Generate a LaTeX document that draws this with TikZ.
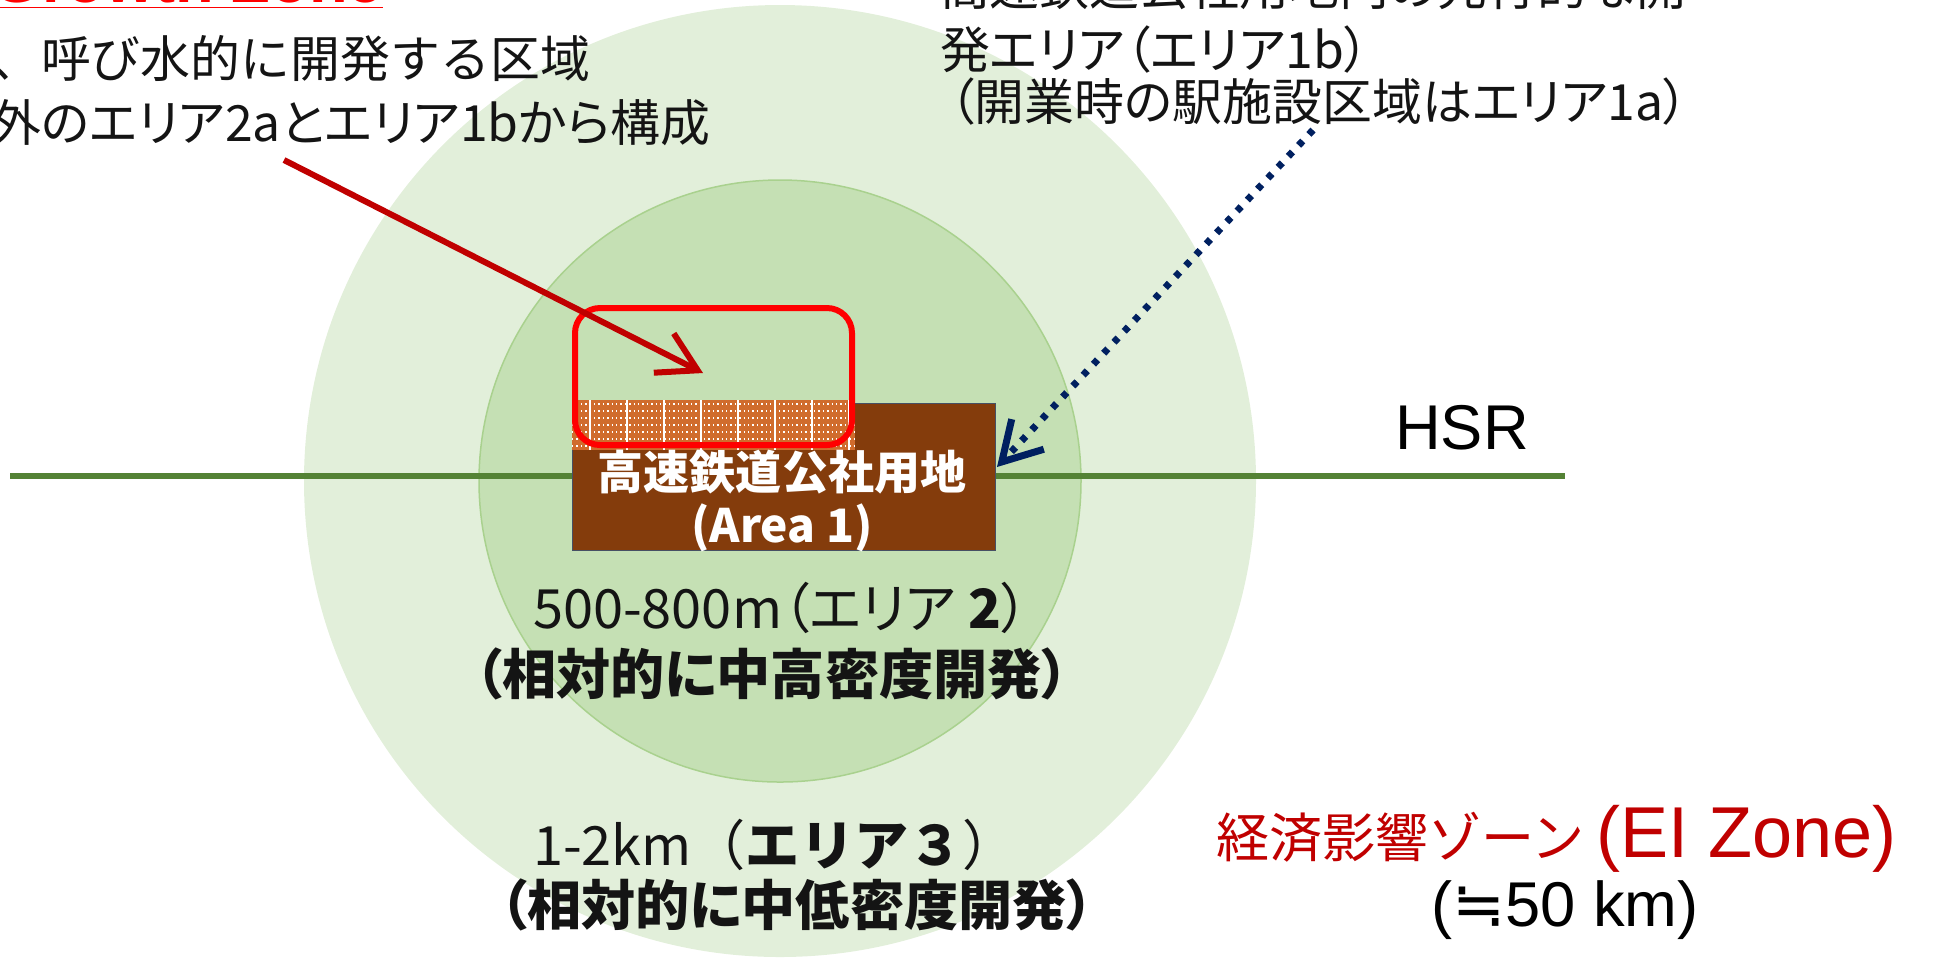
\documentclass[tikz,border=0pt]{standalone}
\usepackage{fontspec}
\newfontfamily\jpfont[RawFeature=+palt]{Noto Sans CJK JP}
\newfontfamily\jpfull{Noto Sans CJK JP}
\newfontfamily\arialfont{Liberation Sans}
\newfontfamily\symfont{DejaVu Sans}
\usetikzlibrary{arrows.meta,positioning}
\definecolor{zoneout}{RGB}{226,239,218}
\definecolor{zonein}{RGB}{197,224,180}
\definecolor{zoneedge}{RGB}{169,209,142}
\definecolor{hsrgreen}{RGB}{84,130,53}
\definecolor{landbrown}{RGB}{132,60,12}
\definecolor{landedge}{RGB}{70,80,100}
\definecolor{padorange}{RGB}{208,108,45}
\definecolor{eired}{RGB}{192,0,0}
\definecolor{navyline}{RGB}{0,32,96}
\definecolor{inktext}{RGB}{20,20,20}

\begin{document}
\begin{tikzpicture}[x=0.1mm, y=-0.1mm, inner sep=0pt, outer sep=0pt,
    note/.style={font=\jpfont\fontsize{14.2}{17}\selectfont, text=inktext},
    zonelbl/.style={font=\jpfont\fontsize{15.4}{18}\selectfont, text=inktext, anchor=west},
    barb/.style={-{Straight Barb[length=3.8mm,width=4.4mm]}}]
   \useasboundingbox (0,0) rectangle (1935,962);
   \clip (0,0) rectangle (1935,962);
   % zones
   \node (zone3) [circle, fill=zoneout, minimum size=95.2mm] at (780,481) {};
   \node (zone2) [circle, fill=zonein, draw=zoneedge, line width=0.15mm, minimum size=60.2mm] at (780,481) {};
   % HSR line
   \coordinate (hsrW) at (10,476);
   \coordinate (hsrE) at (1565,476);
   \draw [hsrgreen, line width=0.65mm] (hsrW) -- (hsrE);
   \node (hsr) [font=\arialfont\fontsize{18}{20}\selectfont] at (1462,428) {HSR};
   % area 1 and growth zone box
   \node (area1) [fill=landbrown, draw=landedge, line width=0.1mm, minimum width=42.3mm, minimum height=14.7mm] at (783.5,476.5) {};
   \fill [padorange] (572,400) rectangle (855,450);
   \foreach \yy in {404,411,...,446}
     \draw [white, line width=0.14mm, dash pattern=on 0.14mm off 0.3mm] (572,\yy) -- (855,\yy);
   \foreach \xx in {590,627,...,850}
     \draw [white, line width=0.12mm] (\xx,400) -- (\xx,450);
   \node (gzbox) [draw=red, line width=0.6mm, rounded corners=2.5mm, minimum width=27.7mm, minimum height=13.7mm] at (713.5,376.5) {};
   \node (area1txt) [align=center, text=white, font=\jpfont\bfseries\fontsize{13.1}{15.1}\selectfont] at (782,501) {高速鉄道公社用地\\(Area 1)};
   % texts
   \begin{scope}[every node/.style={note}]
    \node (gzTitle) [anchor=base east, text=red, font=\arialfont\bfseries\fontsize{18}{20}\selectfont] at (383,2) {\underline{Growth Zone}};
    \node (gzLine1) [anchor=east, font=\jpfull\fontsize{14.2}{17}\selectfont] at (590,59) {り、呼び水的に開発する区域};
    \node (gzLine2) [anchor=east] at (710,123) {以外のエリア2aとエリア1bから構成};
    \node (tkLine0) [anchor=west] at (940,-13) {高速鉄道公社用地内の先行的な開};
    \node (tkLine1) [anchor=west] at (940,50) {発エリア（エリア1b）};
    \node (tkLine2) [anchor=west] at (950,102) {（開業時の駅施設区域はエリア1a）};
   \end{scope}
   \begin{scope}[every node/.style={zonelbl}]
    \node (z2a) at (533,608) {500-800m（エリア \textbf{2}）};
    \node (z2b) [font=\jpfont\bfseries\fontsize{15.4}{18}\selectfont] at (475,674) {（相対的に中高密度開発）};
    \node (z3a) [font=\jpfull\fontsize{15.4}{18}\selectfont] at (533,845) {1-2km（\textbf{エリア３}）};
    \node (z3b) [font=\jpfont\bfseries\fontsize{15.4}{18}\selectfont] at (500,905) {（相対的に中低密度開発）};
   \end{scope}
   \node (eiZone) [anchor=west, text=eired, font=\jpfull\fontsize{15.1}{18}\selectfont] at (1216,839) {経済影響ゾーン {\arialfont\fontsize{20.5}{22}\selectfont (EI Zone)}};
   \node (eiDist) [anchor=west, font=\arialfont\fontsize{18}{20}\selectfont] at (1431,910) {({\symfont ≒}50 km)};
   % arrows
   \coordinate (gzTail) at (284,160);
   \coordinate (gzHead) at (703,373);
   \coordinate (tkTail) at (1313,130);
   \coordinate (tkHead) at (997,467);
   \draw [eired, line width=0.6mm, barb] (gzTail) -- (gzHead);
   \draw [navyline, line width=0.7mm, dash pattern=on 0.6mm off 0.9mm, barb] (tkTail) -- (tkHead);
\end{tikzpicture}
\end{document}
